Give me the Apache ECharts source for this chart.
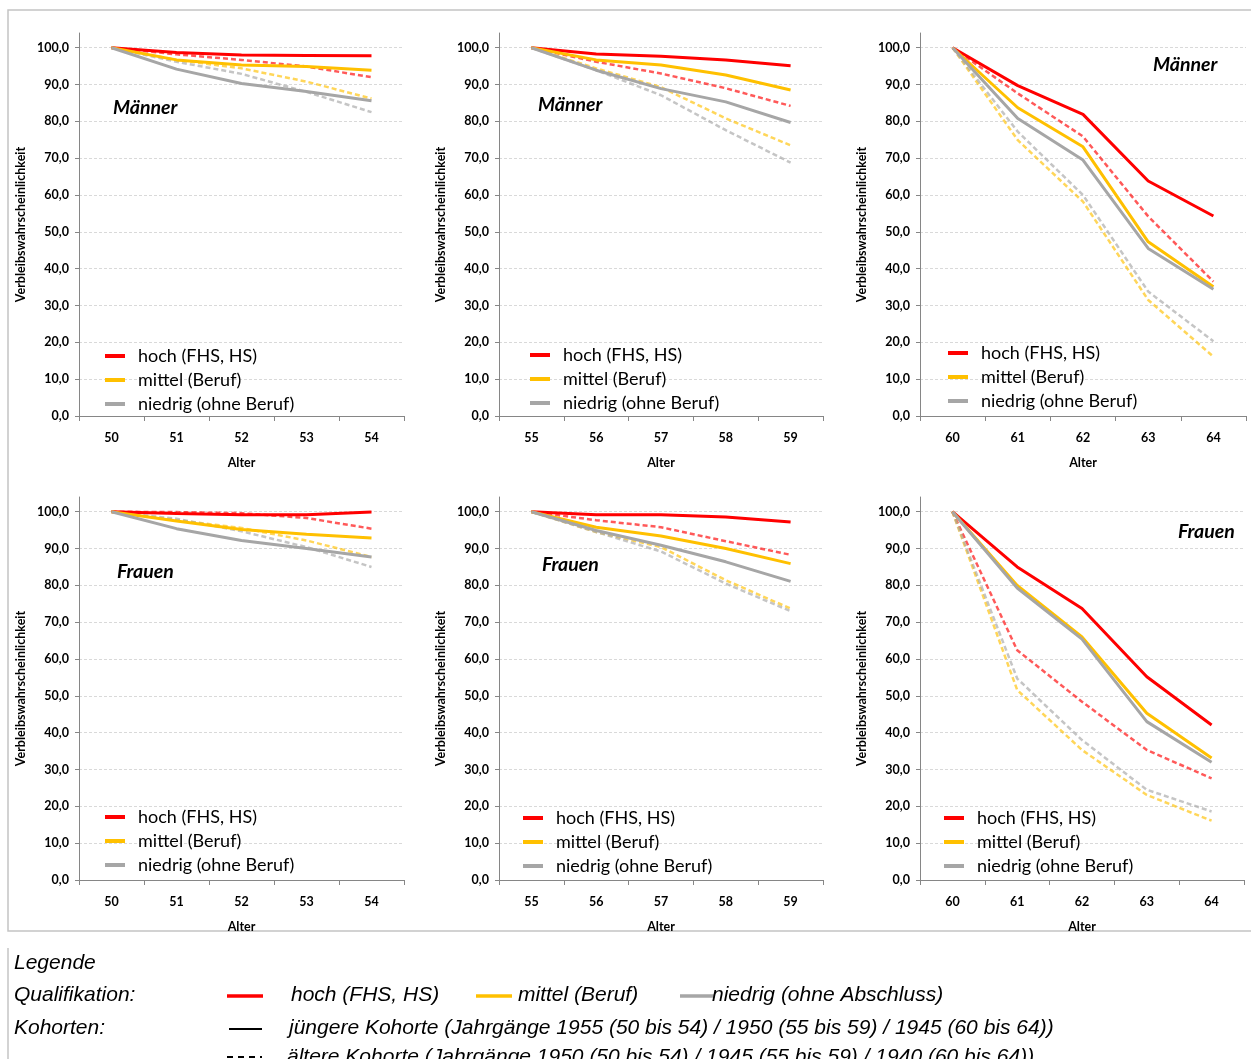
<!DOCTYPE html>
<html>
<head>
<meta charset="utf-8">
<script src="https://cdn.jsdelivr.net/npm/echarts@6/dist/echarts.min.js"></script>
<style>
  html, body { margin: 0; padding: 0; background: #fff; }
  #main { width: 1251px; height: 1059px; }
</style>
</head>
<body>
<div id="main"></div>
<script>
// Altersgruppen (x-Achse)
var alter50 = ['50', '51', '52', '53', '54'];
var alter55 = ['55', '56', '57', '58', '59'];
var alter60 = ['60', '61', '62', '63', '64'];

var qualiNamen = ['hoch (FHS, HS)', 'mittel (Beruf)', 'niedrig (ohne Beruf)'];
var yTicks = [0, 10, 20, 30, 40, 50, 60, 70, 80, 90, 100];

// Männer 50-54: jüngere Kohorte (durchgezogen) / ältere Kohorte (gestrichelt)
var m50Hoch = [100, 98.7, 98.0, 97.9, 97.8];
var m50Mittel = [100, 96.7, 95.3, 94.9, 93.9];
var m50Niedrig = [100, 94.2, 90.3, 88.1, 85.6];
var m50HochAlt = [100, 98.2, 96.7, 94.9, 92.0];
var m50MittelAlt = [100, 96.7, 94.4, 90.8, 86.2];
var m50NiedrigAlt = [100, 96.2, 92.9, 88.0, 82.5];

// Männer 55-59
var m55Hoch = [100, 98.3, 97.7, 96.7, 95.1];
var m55Mittel = [100, 96.7, 95.3, 92.6, 88.5];
var m55Niedrig = [100, 93.9, 88.9, 85.3, 79.7];
var m55HochAlt = [100, 96.2, 93.0, 89.0, 84.2];
var m55MittelAlt = [100, 94.4, 89.3, 80.8, 73.5];
var m55NiedrigAlt = [100, 93.9, 87.1, 77.6, 68.8];

// Männer 60-64
var m60Hoch = [100, 89.7, 81.9, 63.8, 54.3];
var m60Mittel = [100, 83.7, 73.1, 47.3, 35.1];
var m60Niedrig = [100, 80.8, 69.5, 45.5, 34.4];
var m60HochAlt = [100, 87.6, 75.9, 54.2, 36.5];
var m60MittelAlt = [100, 74.9, 58.2, 31.5, 16.1];
var m60NiedrigAlt = [100, 77.2, 60.0, 33.8, 20.3];

// Frauen 50-54
var f50Hoch = [100, 99.5, 99.2, 99.2, 99.9];
var f50Mittel = [100, 97.5, 95.2, 93.9, 92.9];
var f50Niedrig = [100, 95.4, 92.2, 90.0, 87.7];
var f50HochAlt = [100, 99.9, 99.6, 98.3, 95.4];
var f50MittelAlt = [100, 97.7, 95.6, 92.2, 87.7];
var f50NiedrigAlt = [100, 98.1, 94.7, 90.4, 85.0];

// Frauen 55-59
var f55Hoch = [100, 99.2, 99.2, 98.6, 97.2];
var f55Mittel = [100, 95.8, 93.4, 90.0, 85.9];
var f55Niedrig = [100, 94.9, 90.9, 86.4, 81.1];
var f55HochAlt = [100, 97.7, 95.8, 92.0, 88.3];
var f55MittelAlt = [100, 94.5, 90.4, 81.4, 73.7];
var f55NiedrigAlt = [100, 94.5, 89.2, 80.5, 73.0];

// Frauen 60-64
var f60Hoch = [100, 85.0, 73.7, 55.2, 42.1];
var f60Mittel = [100, 80.0, 66.0, 45.3, 33.1];
var f60Niedrig = [100, 79.3, 65.4, 43.0, 32.0];
var f60HochAlt = [100, 62.4, 48.4, 35.3, 27.6];
var f60MittelAlt = [100, 51.6, 35.3, 23.1, 16.1];
var f60NiedrigAlt = [100, 54.7, 38.0, 24.5, 18.6];

var farben = ['#ff0000', '#ffc000', '#a6a6a6'];
var labelFont = 'Lato';

// Anordnung der sechs Diagramme
var panels = [
    {ages: alter50, jung: [m50Hoch, m50Mittel, m50Niedrig], alt: [m50HochAlt, m50MittelAlt, m50NiedrigAlt],
     title: 'Männer', grid: {left: 79, top: 33, width: 325}, tpos: {left: 113, top: 98}, lpos: {left: 105, top: 346}},
    {ages: alter55, jung: [m55Hoch, m55Mittel, m55Niedrig], alt: [m55HochAlt, m55MittelAlt, m55NiedrigAlt],
     title: 'Männer', grid: {left: 499, top: 33, width: 324}, tpos: {left: 538, top: 95}, lpos: {left: 530, top: 345}},
    {ages: alter60, jung: [m60Hoch, m60Mittel, m60Niedrig], alt: [m60HochAlt, m60MittelAlt, m60NiedrigAlt],
     title: 'Männer', grid: {left: 920, top: 33, width: 326}, tpos: {left: 1153, top: 55}, lpos: {left: 948, top: 343}},
    {ages: alter50, jung: [f50Hoch, f50Mittel, f50Niedrig], alt: [f50HochAlt, f50MittelAlt, f50NiedrigAlt],
     title: 'Frauen', grid: {left: 79, top: 497, width: 325}, tpos: {left: 117, top: 562}, lpos: {left: 105, top: 807}},
    {ages: alter55, jung: [f55Hoch, f55Mittel, f55Niedrig], alt: [f55HochAlt, f55MittelAlt, f55NiedrigAlt],
     title: 'Frauen', grid: {left: 499, top: 497, width: 324}, tpos: {left: 542, top: 555}, lpos: {left: 523, top: 808}},
    {ages: alter60, jung: [f60Hoch, f60Mittel, f60Niedrig], alt: [f60HochAlt, f60MittelAlt, f60NiedrigAlt],
     title: 'Frauen', grid: {left: 920, top: 497, width: 324}, tpos: {left: 1178, top: 522}, lpos: {left: 944, top: 808}}
];

var option = {
    animation: false,
    backgroundColor: '#fff',
    title: [], grid: [], xAxis: [], yAxis: [], legend: [], series: []
};

panels.forEach(function (p, i) {
    option.grid.push({left: p.grid.left, top: p.grid.top, width: p.grid.width, height: 383});
    option.title.push({
        text: p.title, left: p.tpos.left, top: p.tpos.top, padding: 0,
        textStyle: {fontFamily: labelFont, fontSize: 19.5, fontWeight: 'bold', fontStyle: 'italic', color: '#000'}
    });
    option.xAxis.push({
        type: 'category', gridIndex: i, data: p.ages, boundaryGap: true,
        name: 'Alter', nameLocation: 'middle', nameGap: 40,
        nameTextStyle: {fontFamily: labelFont, fontSize: 12.5, fontWeight: 'bold', color: '#000'},
        axisLine: {lineStyle: {color: '#868686', width: 1}},
        axisTick: {show: true, length: 5, lineStyle: {color: '#868686'}},
        axisLabel: {margin: 15, fontFamily: labelFont, fontSize: 12.5, fontWeight: 'bold', color: '#000'},
        splitLine: {show: false}
    });
    option.yAxis.push({
        type: 'value', gridIndex: i, min: yTicks[0], max: 104, interval: 10,
        name: 'Verbleibswahrscheinlichkeit', nameLocation: 'middle', nameGap: 52, nameRotate: 90,
        nameTextStyle: {fontFamily: labelFont, fontSize: 12.5, fontWeight: 'bold', color: '#000'},
        axisLine: {show: true, lineStyle: {color: '#868686', width: 1}},
        axisTick: {show: true, length: 4, lineStyle: {color: '#868686'}},
        axisLabel: {
            showMaxLabel: false, margin: 10, fontFamily: labelFont, fontSize: 12.5, fontWeight: 'bold', color: '#000',
            formatter: function (v) { return v > 100 ? '' : v.toFixed(1).replace('.', ','); }
        },
        splitLine: {show: true, showMaxLine: false, showMinLine: false, lineStyle: {color: '#d9d9d9', type: [3, 2], width: 1}}
    });
    option.legend.push({
        orient: 'vertical', left: p.lpos.left, top: p.lpos.top, padding: 0,
        itemWidth: 20, itemHeight: 4, itemGap: 4, selectedMode: false,
        data: qualiNamen.map(function (n) { return {name: n, icon: 'rect'}; }),
        textStyle: {fontFamily: labelFont, fontSize: 18, color: '#000', lineHeight: 20, padding: [0, 0, 0, 8]}
    });
    // ältere Kohorte gestrichelt
    p.alt.forEach(function (d, k) {
        option.series.push({
            type: 'line', name: qualiNamen[k] + ' (ältere Kohorte)', xAxisIndex: i, yAxisIndex: i,
            data: d, symbol: 'none', color: farben[k],
            lineStyle: {color: farben[k], width: 2.5, type: [5, 3], opacity: 0.65}
        });
    });
    // jüngere Kohorte durchgezogen
    p.jung.forEach(function (d, k) {
        option.series.push({
            type: 'line', name: qualiNamen[k], xAxisIndex: i, yAxisIndex: i,
            data: d, symbol: 'none', color: farben[k],
            lineStyle: {color: farben[k], width: 3}
        });
    });
});

var lf = 'italic 21px "Liberation Sans", Arial, sans-serif';
function txt(x, y, s) {
    return {type: 'text', z: 10, style: {x: x, y: y, text: s, font: lf, fill: '#000', verticalAlign: 'middle'}};
}
function strich(x1, x2, y, col, w, dash) {
    return {type: 'line', z: 10, shape: {x1: x1, y1: y, x2: x2, y2: y},
        style: {stroke: col, lineWidth: w, lineDash: dash || null}};
}

option.graphic = [
    {type: 'rect', z: -1, shape: {x: 8, y: 10, width: 1250, height: 921}, style: {fill: 'none', stroke: '#c4c4c4', lineWidth: 1.5}},
    {type: 'line', shape: {x1: 8, y1: 948, x2: 8, y2: 1059}, style: {stroke: '#c4c4c4', lineWidth: 1.5}},
    txt(14, 963, 'Legende'),
    txt(14, 995, 'Qualifikation:'),
    strich(227, 263, 996, farben[0], 3.5),
    txt(291, 995, 'hoch (FHS, HS)'),
    strich(476, 512, 996, farben[1], 3.5),
    txt(518, 995, 'mittel (Beruf)'),
    strich(680, 715, 996, farben[2], 3.5),
    txt(712, 995, 'niedrig (ohne Abschluss)'),
    txt(14, 1028, 'Kohorten:'),
    strich(229, 262, 1029, '#000', 2),
    txt(289, 1028, 'jüngere Kohorte (Jahrgänge 1955 (50 bis 54) / 1950 (55 bis 59) / 1945 (60 bis 64))'),
    strich(227, 262, 1057, '#000', 2, [6, 5]),
    txt(287, 1057, 'ältere Kohorte (Jahrgänge 1950 (50 bis 54) / 1945 (55 bis 59) / 1940 (60 bis 64))')
];

var chart = echarts.init(document.getElementById('main'));
chart.setOption(option);
</script>
</body>
</html>
